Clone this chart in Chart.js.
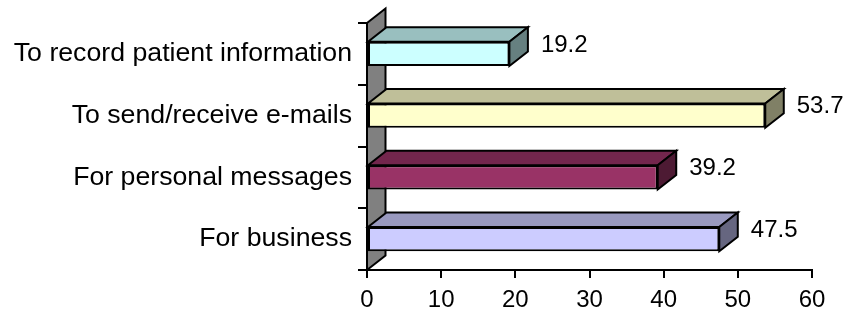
<!DOCTYPE html>
<html>
<head>
<meta charset="utf-8">
<script src="https://cdn.jsdelivr.net/npm/chart.js@4"></script>
<style>
html,body{margin:0;padding:0;background:#fff;}
#c{display:block;}
</style>
</head>
<body>
<canvas id="c" width="849" height="313"></canvas>
<script>
// Data (top to bottom as displayed)
const categories = ['To record patient information', 'To send/receive e-mails', 'For personal messages', 'For business'];
const values = [19.2, 53.7, 39.2, 47.5];
const xTickValues = [0, 10, 20, 30, 40, 50, 60];
const frontColors = ['#CCFFFF', '#FFFFCC', '#993366', '#CCCCFF'];
const topColors = ['#99BFBF', '#BFBF99', '#73264D', '#9999BF'];
const sideColors = ['#668080', '#808066', '#4D1A33', '#666680'];

const DX = 18.5, DY = -14.5;
const FONT = '"Liberation Sans", Arial, sans-serif';

function poly(ctx, pts, fill) {
  ctx.beginPath();
  ctx.moveTo(pts[0][0], pts[0][1]);
  for (let i = 1; i < pts.length; i++) ctx.lineTo(pts[i][0], pts[i][1]);
  ctx.closePath();
  ctx.fillStyle = fill;
  ctx.fill();
  ctx.stroke();
}

const bar3d = {
  id: 'bar3d',
  beforeDatasetsDraw(chart) {
    const ctx = chart.ctx;
    const xs = chart.scales.x, ys = chart.scales.y;
    const x0 = xs.getPixelForValue(0);
    ctx.save();
    ctx.lineWidth = 2;
    ctx.strokeStyle = '#000';
    ctx.lineJoin = 'miter';
    poly(ctx, [[x0, ys.top], [x0 + DX, ys.top + DY], [x0 + DX, ys.bottom + DY], [x0, ys.bottom]], '#808080');
    ctx.restore();
  },
  afterDatasetsDraw(chart) {
    const ctx = chart.ctx;
    const meta = chart.getDatasetMeta(0);
    ctx.save();
    ctx.lineWidth = 2;
    ctx.strokeStyle = '#000';
    meta.data.forEach((el, i) => {
      const p = el.getProps(['x', 'y', 'base', 'height'], true);
      const top = p.y - p.height / 2, bot = p.y + p.height / 2;
      poly(ctx, [[p.base, top], [p.base + DX, top + DY], [p.x + DX, top + DY], [p.x, top]], topColors[i]);
      poly(ctx, [[p.x, top], [p.x + DX, top + DY], [p.x + DX, bot + DY], [p.x, bot]], sideColors[i]);
      ctx.fillStyle = '#000';
      ctx.font = '24px ' + FONT;
      ctx.textAlign = 'left';
      ctx.textBaseline = 'middle';
      ctx.fillText(String(values[i]), p.x + DX + 13, p.y - 9);
    });
    ctx.restore();
  }
};

new Chart(document.getElementById('c'), {
  type: 'bar',
  data: {
    labels: categories,
    datasets: [{
      data: values,
      backgroundColor: frontColors,
      borderColor: '#000',
      borderWidth: 2,
      borderSkipped: false,
      barPercentage: 0.39,
      categoryPercentage: 1
    }]
  },
  options: {
    indexAxis: 'y',
    responsive: false,
    animation: false,
    events: [],
    layout: { padding: { top: 23, right: 37, left: 0, bottom: 0 } },
    plugins: { legend: { display: false }, tooltip: { enabled: false } },
    scales: {
      x: {
        type: 'linear',
        min: 0, max: 60,
        afterFit(scale) { scale.height = 43; },
        afterBuildTicks(scale) { scale.ticks = xTickValues.map(v => ({ value: v })); },
        ticks: { color: '#000', font: { family: FONT, size: 24 }, padding: 8, maxRotation: 0 },
        grid: { drawOnChartArea: false, drawTicks: true, tickLength: 8, color: '#000', lineWidth: 2 },
        border: { display: true, color: '#000', width: 2 }
      },
      y: {
        afterFit(scale) { scale.width = 367; },
        ticks: { color: '#000', font: { family: FONT, size: 26.7 }, padding: 6, labelOffset: 0 },
        grid: { drawOnChartArea: false, drawTicks: true, tickLength: 9, color: '#000', lineWidth: 2, offset: true },
        border: { display: true, color: '#000', width: 2 }
      }
    }
  },
  plugins: [bar3d]
});
</script>
</body>
</html>
